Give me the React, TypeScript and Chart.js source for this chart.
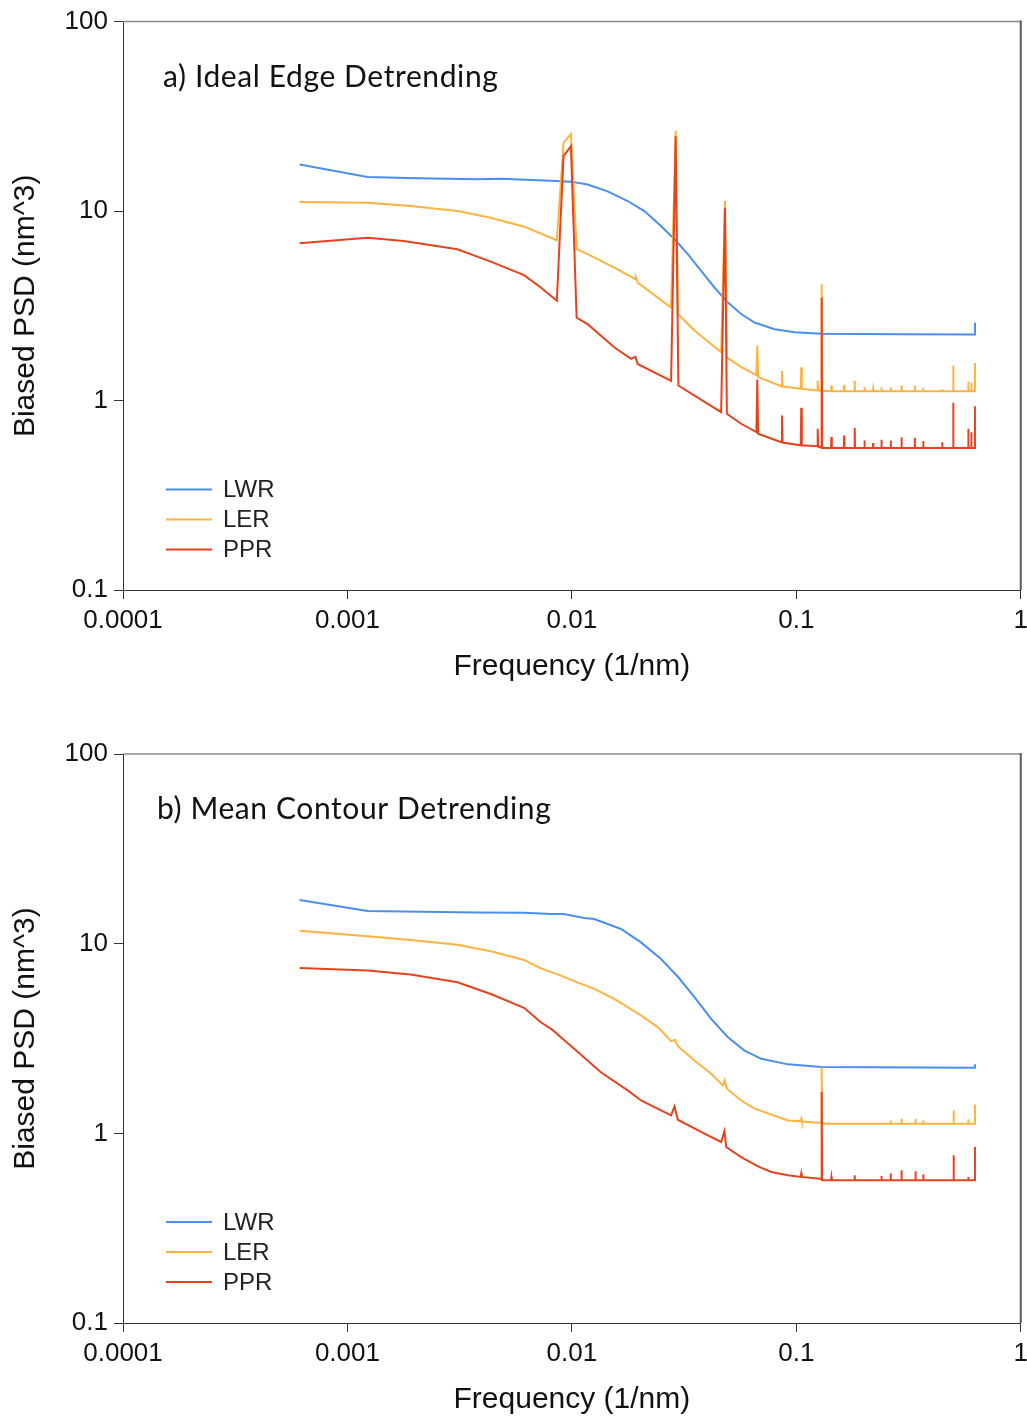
import React, { useEffect, useRef } from 'react';
import { Chart, registerables } from 'chart.js';

Chart.register(...registerables);

// ---------- labels, ticks ----------
const seriesLabels = ['LWR', 'LER', 'PPR'];
const seriesColors = ['#4a8ef0', '#ffb23f', '#e5431d'];
const panelTitles = ['a) Ideal Edge Detrending', 'b) Mean Contour Detrending'];
const xTickValues = [0.0001, 0.001, 0.01, 0.1, 1];
const xTickLabels = ['0.0001', '0.001', '0.01', '0.1', '1'];
const yTickValues = [0.1, 1, 10, 100];
const yTickLabels = ['0.1', '1', '10', '100'];
const xAxisTitle = 'Frequency (1/nm)';
const yAxisTitle = 'Biased PSD (nm^3)';

// ---------- panel a) Ideal Edge Detrending ----------
const topLwrFreq = [
  0.000612, 0.00123, 0.00205, 0.00379, 0.00482, 0.00806, 0.0099, 0.01175,
  0.01442, 0.01773, 0.02103, 0.02495, 0.02866, 0.03285, 0.03767, 0.04317,
  0.04955, 0.05678, 0.06516, 0.08003, 0.0982, 0.1293, 0.2943, 0.6244, 0.625,
];
const topLwrPsd = [
  17.6, 15.15, 14.9, 14.7, 14.8, 14.45, 14.3, 13.8,
  12.7, 11.3, 10.0, 8.34, 7.1, 5.92, 4.83, 3.95,
  3.29, 2.86, 2.58, 2.38, 2.29, 2.25, 2.24, 2.23, 2.58,
];

const topLerFreq = [
  0.000612, 0.00123, 0.00191, 0.00309, 0.00435, 0.00612, 0.00857,
  0.00918, 0.0099, 0.0105, 0.01175, 0.01544, 0.01918, 0.0193, 0.01964,
  0.02767, 0.029, 0.02965, 0.03516, 0.04624, 0.0481, 0.04904, 0.05678,
  0.0664, 0.067, 0.0676,
  0.0857, 0.0863, 0.0869,
  0.1046, 0.1052, 0.1058,
  0.1239, 0.1245, 0.1251,
  0.1291, 0.1297, 0.1303,
  0.1427, 0.1433, 0.1439,
  0.1627, 0.1633, 0.1639,
  0.1814, 0.182, 0.1826,
  0.2006, 0.2012, 0.2018,
  0.2193, 0.2199, 0.2205,
  0.2389, 0.2395, 0.2401,
  0.2628, 0.2634, 0.264,
  0.2937, 0.2943, 0.2949,
  0.3367, 0.3373, 0.3379,
  0.3672, 0.3678, 0.3684,
  0.4462, 0.4468, 0.4474,
  0.4999, 0.5005, 0.5011,
  0.5835, 0.5841, 0.5847,
  0.6019, 0.6025, 0.6031,
  0.6244, 0.625,
];
const topLerPsd = [
  11.15, 11.06, 10.62, 10.0, 9.22, 8.27, 7.01,
  22.9, 25.5, 6.29, 5.92, 5.03, 4.37, 4.46, 4.19,
  3.1, 26.6, 2.86, 2.34, 1.8, 11.29, 1.69, 1.5,
  1.36, 1.95, 1.33,
  1.19, 1.43, 1.185,
  1.155, 1.5, 1.152,
  1.13, 1.27, 1.13,
  1.13, 4.11, 1.125,
  1.12, 1.2, 1.12,
  1.12, 1.21, 1.12,
  1.12, 1.27, 1.12,
  1.12, 1.175, 1.12,
  1.12, 1.15, 1.12,
  1.12, 1.175, 1.12,
  1.12, 1.175, 1.12,
  1.12, 1.2, 1.12,
  1.12, 1.2, 1.12,
  1.12, 1.165, 1.12,
  1.12, 1.15, 1.12,
  1.12, 1.53, 1.12,
  1.12, 1.26, 1.12,
  1.12, 1.24, 1.12,
  1.12, 1.58,
];

const topPprFreq = [
  0.000612, 0.00123, 0.00178, 0.00309, 0.00435, 0.00612, 0.00727, 0.00857,
  0.00918, 0.0099, 0.0105, 0.01175, 0.01544, 0.01834, 0.0192, 0.01964,
  0.02767, 0.029, 0.02981, 0.04033, 0.04624, 0.0481, 0.04904, 0.05678,
  0.0664, 0.067, 0.0676,
  0.0857, 0.0863, 0.0869,
  0.1046, 0.1052, 0.1058,
  0.1239, 0.1245, 0.1251,
  0.1291, 0.1297, 0.1303,
  0.1427, 0.1433, 0.1439,
  0.1627, 0.1633, 0.1639,
  0.1814, 0.182, 0.1826,
  0.2006, 0.2012, 0.2018,
  0.2193, 0.2199, 0.2205,
  0.2389, 0.2395, 0.2401,
  0.2628, 0.2634, 0.264,
  0.2937, 0.2943, 0.2949,
  0.3367, 0.3373, 0.3379,
  0.3672, 0.3678, 0.3684,
  0.4462, 0.4468, 0.4474,
  0.4999, 0.5005, 0.5011,
  0.5835, 0.5841, 0.5847,
  0.6019, 0.6025, 0.6031,
  0.6244, 0.625,
];
const topPprPsd = [
  6.76, 7.24, 6.95, 6.29, 5.41, 4.59, 3.95, 3.36,
  19.5, 22.0, 2.74, 2.53, 1.91, 1.66, 1.7, 1.56,
  1.27, 24.8, 1.2, 0.961, 0.868, 10.4, 0.851, 0.754,
  0.681, 1.29, 0.668,
  0.603, 0.834, 0.6,
  0.58, 0.915, 0.58,
  0.573, 0.71, 0.57,
  0.565, 3.5, 0.562,
  0.562, 0.641, 0.562,
  0.562, 0.654, 0.562,
  0.562, 0.718, 0.562,
  0.562, 0.616, 0.562,
  0.562, 0.596, 0.562,
  0.562, 0.621, 0.562,
  0.562, 0.616, 0.562,
  0.562, 0.641, 0.562,
  0.562, 0.636, 0.562,
  0.562, 0.611, 0.562,
  0.562, 0.603, 0.562,
  0.562, 0.972, 0.562,
  0.562, 0.71, 0.562,
  0.562, 0.681, 0.562,
  0.562, 0.933,
];

// ---------- panel b) Mean Contour Detrending ----------
const botLwrFreq = [
  0.000612, 0.00123, 0.00379, 0.00612, 0.00806, 0.0092, 0.01135, 0.01258,
  0.01655, 0.02032, 0.02495, 0.02981, 0.03516, 0.04174, 0.04955, 0.05877,
  0.06982, 0.0918, 0.1293, 0.6244, 0.625,
];
const botLwrPsd = [
  17.0, 14.86, 14.61, 14.56, 14.33, 14.33, 13.66, 13.49,
  11.95, 10.16, 8.3, 6.65, 5.22, 4.01, 3.21, 2.73,
  2.47, 2.31, 2.24, 2.22, 2.31,
];

const botLerFreq = [
  0.000612, 0.00123, 0.00191, 0.00309, 0.00435, 0.00612, 0.00727, 0.00893,
  0.0099, 0.01258, 0.01544, 0.02032, 0.02413, 0.02767, 0.02884, 0.02965,
  0.03516, 0.04174, 0.04708, 0.0479, 0.04904, 0.05678, 0.06516, 0.0918,
  0.1046, 0.1052, 0.1058,
  0.1291, 0.1297, 0.1303,
  0.2628, 0.2634, 0.264,
  0.2937, 0.2943, 0.2949,
  0.3391, 0.3397, 0.3403,
  0.3672, 0.3678, 0.3684,
  0.5017, 0.5023, 0.5029,
  0.5835, 0.5841, 0.5847,
  0.6244, 0.625,
];
const botLerPsd = [
  11.7, 10.93, 10.46, 9.88, 9.11, 8.21, 7.41, 6.79,
  6.44, 5.78, 5.12, 4.18, 3.63, 3.06, 3.11, 2.88,
  2.42, 2.06, 1.79, 1.9, 1.72, 1.49, 1.35, 1.17,
  1.16, 1.19, 1.155,
  1.133, 2.23, 1.122,
  1.122, 1.17, 1.122,
  1.122, 1.195, 1.122,
  1.122, 1.195, 1.122,
  1.122, 1.17, 1.122,
  1.122, 1.32, 1.122,
  1.122, 1.185, 1.122,
  1.122, 1.42,
];

const botPprFreq = [
  0.000612, 0.00123, 0.00191, 0.00309, 0.00435, 0.00612, 0.00727, 0.0082,
  0.00893, 0.01024, 0.01346, 0.01773, 0.02032, 0.02767, 0.02866, 0.02965,
  0.03896, 0.04624, 0.04786, 0.04869, 0.05678, 0.0675, 0.07732, 0.0918,
  0.1046, 0.1052, 0.1058, 0.1239,
  0.1291, 0.1297, 0.1303,
  0.1427, 0.1433, 0.1439,
  0.1814, 0.182, 0.1826,
  0.2389, 0.2395, 0.2401,
  0.2628, 0.2634, 0.264,
  0.2937, 0.2943, 0.2949,
  0.3391, 0.3397, 0.3403,
  0.3672, 0.3678, 0.3684,
  0.5017, 0.5023, 0.5029,
  0.5835, 0.5841, 0.5847,
  0.6244, 0.625,
];
const botPprPsd = [
  7.45, 7.21, 6.87, 6.26, 5.43, 4.59, 3.85, 3.51,
  3.21, 2.79, 2.1, 1.684, 1.49, 1.244, 1.387, 1.18,
  0.996, 0.9, 1.028, 0.847, 0.75, 0.67, 0.626, 0.601,
  0.589, 0.614, 0.589, 0.578,
  0.575, 1.65, 0.566,
  0.566, 0.589, 0.566,
  0.566, 0.601, 0.566,
  0.566, 0.595, 0.566,
  0.566, 0.614, 0.566,
  0.566, 0.639, 0.566,
  0.566, 0.631, 0.566,
  0.566, 0.609, 0.566,
  0.566, 0.766, 0.566,
  0.566, 0.589, 0.566,
  0.566, 0.847,
];

type PanelProps = {
  title: string;
  freqs: number[][];
  psds: number[][];
  top: number;
  height: number;
  plotTop: number;
  xAxisH: number;
  titleDx: number;
};

const CANVAS_W = 1034;
const tickFont = { family: '"Liberation Sans", Arial, sans-serif', size: 26 };
const axisTitleFont = { family: '"Liberation Sans", Arial, sans-serif', size: 30 };

function Panel({ title, freqs, psds, top, height, plotTop, xAxisH, titleDx }: PanelProps) {
  const ref = useRef<HTMLCanvasElement>(null);

  useEffect(() => {
    const canvas = ref.current;
    if (!canvas) return;

    const framePlugin = {
      id: 'frameTitleLegend',
      afterDraw(chart: any) {
        const { ctx, chartArea: a } = chart;
        ctx.save();
        // top and right frame lines
        ctx.strokeStyle = '#8a8a8a';
        ctx.lineWidth = 1.5;
        ctx.beginPath();
        ctx.moveTo(a.left, a.top);
        ctx.lineTo(a.right, a.top);
        ctx.stroke();
        ctx.strokeStyle = '#5a5a5a';
        ctx.lineWidth = 2;
        ctx.beginPath();
        ctx.moveTo(a.right, a.top - 1);
        ctx.lineTo(a.right, a.bottom);
        ctx.stroke();
        // panel title
        ctx.fillStyle = '#111';
        ctx.font = '30px Lato, "Open Sans", sans-serif';
        try {
          (ctx as any).letterSpacing = '0.6px';
        } catch (e) {
          /* ignore */
        }
        ctx.textAlign = 'left';
        ctx.textBaseline = 'alphabetic';
        ctx.fillText(title, a.left + titleDx, a.top + 65);
        try {
          (ctx as any).letterSpacing = '0px';
        } catch (e) {
          /* ignore */
        }
        // legend
        ctx.font = '24px "Liberation Sans", Arial, sans-serif';
        ctx.textBaseline = 'middle';
        chart.data.datasets.forEach((ds: any, i: number) => {
          const y = a.top + 468 + i * 30;
          ctx.strokeStyle = ds.borderColor;
          ctx.lineWidth = 2;
          ctx.beginPath();
          ctx.moveTo(a.left + 43, y);
          ctx.lineTo(a.left + 89, y);
          ctx.stroke();
          ctx.fillStyle = '#222';
          ctx.fillText(ds.label, a.left + 100, y + 1);
        });
        ctx.restore();
      },
    };

    const chart = new Chart(canvas, {
      type: 'line',
      data: {
        datasets: seriesLabels.map((label, i) => ({
          label,
          data: freqs[i].map((x, j) => ({ x, y: psds[i][j] })),
          borderColor: seriesColors[i],
          backgroundColor: seriesColors[i],
          borderWidth: 2,
          pointRadius: 0,
          tension: 0,
          fill: false,
          order: 3 - i,
        })),
      },
      options: {
        animation: false,
        responsive: false,
        events: [],
        layout: { padding: { top: plotTop, right: 0, bottom: 0, left: 0 } },
        plugins: { legend: { display: false }, tooltip: { enabled: false } },
        scales: {
          x: {
            type: 'logarithmic',
            min: 0.0001,
            max: 1,
            afterBuildTicks: (s: any) => {
              s.ticks = xTickValues.map((v) => ({ value: v }));
            },
            afterFit: (s: any) => {
              s.height = xAxisH;
            },
            ticks: {
              callback: (_v: any, i: number) => xTickLabels[i],
              font: tickFont,
              color: '#111',
              padding: 6,
              maxRotation: 0,
              autoSkip: false,
            },
            grid: { display: true, drawOnChartArea: false, drawTicks: true, tickLength: 9, color: '#333', lineWidth: 1 },
            border: { display: true, color: '#333', width: 1 },
            title: {
              display: true,
              text: xAxisTitle,
              font: axisTitleFont,
              color: '#111',
              padding: { top: 0, bottom: xAxisH - 77 - 18 },
            },
          },
          y: {
            type: 'logarithmic',
            min: 0.1,
            max: 100,
            afterBuildTicks: (s: any) => {
              s.ticks = yTickValues.map((v) => ({ value: v }));
            },
            afterFit: (s: any) => {
              s.width = 123;
            },
            ticks: {
              callback: (_v: any, i: number) => yTickLabels[i],
              font: tickFont,
              color: '#111',
              padding: 6,
              autoSkip: false,
            },
            grid: { display: true, drawOnChartArea: false, drawTicks: true, tickLength: 9, color: '#333', lineWidth: 1 },
            border: { display: true, color: '#333', width: 1 },
            title: {
              display: true,
              text: yAxisTitle,
              font: axisTitleFont,
              color: '#111',
              padding: { top: 8, bottom: 0 },
            },
          },
        },
      } as any,
      plugins: [framePlugin],
    });

    return () => chart.destroy();
  }, []);

  return (
    <canvas
      ref={ref}
      width={CANVAS_W}
      height={height}
      style={{ position: 'absolute', left: 0, top, width: CANVAS_W, height }}
    />
  );
}

export default function App() {
  return (
    <div
      style={{
        position: 'absolute',
        left: 0,
        top: 0,
        width: 1027,
        height: 1420,
        overflow: 'hidden',
        background: '#fff',
      }}
    >
      <Panel
        title={panelTitles[0]}
        freqs={[topLwrFreq, topLerFreq, topPprFreq]}
        psds={[topLwrPsd, topLerPsd, topPprPsd]}
        top={0}
        height={710}
        plotTop={20}
        xAxisH={120}
        titleDx={40}
      />
      <Panel
        title={panelTitles[1]}
        freqs={[botLwrFreq, botLerFreq, botPprFreq]}
        psds={[botLwrPsd, botLerPsd, botPprPsd]}
        top={710}
        height={710}
        plotTop={44}
        xAxisH={97}
        titleDx={34}
      />
    </div>
  );
}
